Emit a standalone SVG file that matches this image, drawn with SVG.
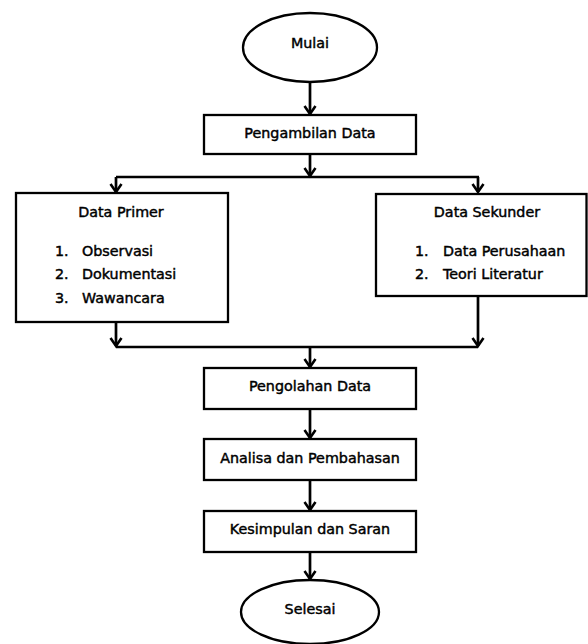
<svg xmlns="http://www.w3.org/2000/svg" width="588" height="644" viewBox="0 0 588 644">
<style>
.shape{fill:#fff;stroke:#000;stroke-width:2.3}
.t{font-family:"DejaVu Sans","Liberation Sans",sans-serif;font-size:14.3px;fill:#000;stroke:#000;stroke-width:0.45}
.c{text-anchor:middle}
.conn{fill:none;stroke:#000;stroke-width:2.7}
</style>
<defs>
<marker id="ah" markerUnits="userSpaceOnUse" markerWidth="14" markerHeight="14" refX="11" refY="7" orient="auto" viewBox="0 0 14 14">
<path d="M3,1.5 L11,7 L3,12.5" fill="none" stroke="#000" stroke-width="2.6"/>
</marker>
</defs>
<rect width="588" height="644" fill="#fff"/>
<g id="connectors">
<path class="conn" d="M310,82 V114" marker-end="url(#ah)"/>
<path class="conn" d="M310,154 V176" marker-end="url(#ah)"/>
<path class="conn" d="M116,177 H479"/>
<path class="conn" d="M116,177 V192" marker-end="url(#ah)"/>
<path class="conn" d="M478,177 V192" marker-end="url(#ah)"/>
<path class="conn" d="M116,322 V346" marker-end="url(#ah)"/>
<path class="conn" d="M478,296 V346" marker-end="url(#ah)"/>
<path class="conn" d="M116,347 H478"/>
<path class="conn" d="M310,347 V367" marker-end="url(#ah)"/>
<path class="conn" d="M310,409 V438" marker-end="url(#ah)"/>
<path class="conn" d="M310,480 V510" marker-end="url(#ah)"/>
<path class="conn" d="M310,552 V579" marker-end="url(#ah)"/>
</g>
<g id="mulai">
<ellipse class="shape" cx="310" cy="47.5" rx="67" ry="34.5"/>
<text class="t c" x="310" y="48">Mulai</text>
</g>
<g id="pengambilan">
<rect class="shape" x="204" y="115" width="212" height="39"/>
<text class="t c" x="310" y="138">Pengambilan Data</text>
</g>
<g id="primer">
<rect class="shape" x="16" y="193" width="212" height="129"/>
<text class="t c" x="121" y="217">Data Primer</text>
<text class="t" x="55" y="256">1.</text><text class="t" x="82" y="256">Observasi</text>
<text class="t" x="55" y="279">2.</text><text class="t" x="82" y="279">Dokumentasi</text>
<text class="t" x="55" y="303">3.</text><text class="t" x="82" y="303">Wawancara</text>
</g>
<g id="sekunder">
<rect class="shape" x="376" y="194" width="210.5" height="102"/>
<text class="t c" x="487" y="217">Data Sekunder</text>
<text class="t" x="415" y="256">1.</text><text class="t" x="443" y="256">Data Perusahaan</text>
<text class="t" x="415" y="279">2.</text><text class="t" x="443" y="279">Teori Literatur</text>
</g>
<g id="pengolahan">
<rect class="shape" x="204" y="368" width="212" height="41"/>
<text class="t c" x="310" y="391">Pengolahan Data</text>
</g>
<g id="analisa">
<rect class="shape" x="204" y="439" width="212" height="41"/>
<text class="t c" x="310" y="463">Analisa dan Pembahasan</text>
</g>
<g id="kesimpulan">
<rect class="shape" x="204" y="511" width="212" height="41"/>
<text class="t c" x="310" y="534">Kesimpulan dan Saran</text>
</g>
<g id="selesai">
<ellipse class="shape" cx="310" cy="612" rx="69" ry="32"/>
<text class="t c" x="310" y="614">Selesai</text>
</g>
</svg>
